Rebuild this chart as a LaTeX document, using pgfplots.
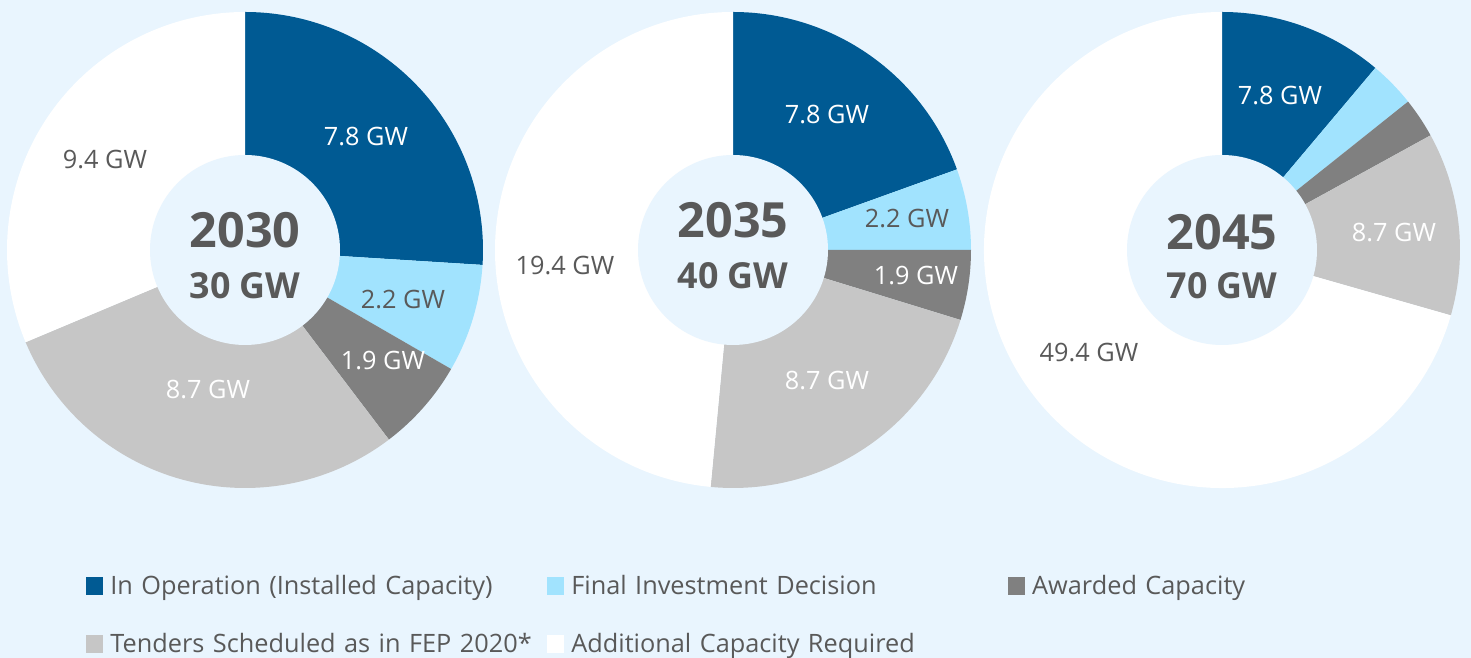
\documentclass[border=0pt]{standalone}
\usepackage{pgfplots}
\usepackage{pgfplotstable}
\pgfplotsset{compat=1.18}
\usepackage{fontspec}
\setmainfont{Open Sans}
\definecolor{bg}{RGB}{233,245,254}
\definecolor{c0}{RGB}{0,90,147}
\definecolor{c1}{RGB}{161,227,254}
\definecolor{c2}{RGB}{128,128,128}
\definecolor{c3}{RGB}{198,198,198}
\definecolor{c4}{RGB}{255,255,255}
\definecolor{txt}{RGB}{89,89,89}

\pgfplotstableread{
value
7.8
2.2
1.9
8.7
9.4
}\tabA
\pgfplotstableread{
value
7.8
2.2
1.9
8.7
19.4
}\tabB
\pgfplotstableread{
value
7.8
2.2
1.9
8.7
49.4
}\tabC

\newcommand\lab{\fontsize{7.2}{8.6}\selectfont}
\newcommand\yr{\fontsize{13.8}{16}\selectfont\bfseries}
\newcommand\gw{\fontsize{10.2}{12}\selectfont\bfseries}

\newcommand\donut[3]{%
  \gdef\tot{0}%
  \foreach \i in {0,...,4}{%
    \pgfplotstablegetelem{\i}{value}\of{#1}%
    \pgfmathparse{\tot+\pgfplotsretval}\xdef\tot{\pgfmathresult}%
  }%
  \gdef\cum{0}%
  \foreach \i in {0,...,4}{%
    \pgfplotstablegetelem{\i}{value}\of{#1}%
    \pgfmathsetmacro\aS{90-360*(\cum/\tot)}%
    \pgfmathparse{\cum+\pgfplotsretval}\xdef\cum{\pgfmathresult}%
    \pgfmathsetmacro\aE{90-360*(\cum/\tot)}%
    \edef\temp{\noexpand\fill[c\i] (axis cs:#2,#3) -- ++(\aS:2.38cm) arc[start angle=\aS, end angle=\aE, radius=2.38cm] -- cycle;}%
    \temp
  }%
  \edef\temp{\noexpand\fill[bg] (axis cs:#2,#3) circle[radius=0.95cm];}\temp
}

\begin{document}
\begin{tikzpicture}
\begin{axis}[
  x=1cm, y=1cm,
  xmin=0, xmax=14.71, ymin=0, ymax=6.58,
  hide axis, scale only axis, clip=false,
  legend columns=3,
  legend cell align=left,
  legend style={draw=none, fill=none, inner sep=0pt, outer sep=0pt,
    at={(axis cs:0.86,0.43)}, anchor=west,
    column sep=0pt, row sep=0.40cm,
    font=\lab, text=txt,
    nodes={inner sep=0pt, text width=4.25cm, text height=0.18cm, text depth=0cm},
    /tikz/every odd column/.append style={column sep=0.07cm},
    /tikz/every even column/.append style={column sep=0.115cm}},
]
\fill[bg] (axis cs:0,0) rectangle (axis cs:14.71,6.58);

\donut{\tabA}{2.45}{4.08}
\donut{\tabB}{7.33}{4.08}
\donut{\tabC}{12.22}{4.08}

% labels 2030
\node[font=\lab, text=white] at (axis cs:3.66,5.21) {7.8 GW};
\node[font=\lab, text=txt] at (axis cs:4.03,3.58) {2.2 GW};
\node[font=\lab, text=white] at (axis cs:3.83,2.97) {1.9 GW};
\node[font=\lab, text=white] at (axis cs:2.08,2.68) {8.7 GW};
\node[font=\lab, text=txt] at (axis cs:1.05,4.98) {9.4 GW};
\node[font=\yr, text=txt] at (axis cs:2.45,4.275) {2030};
\node[font=\gw, text=txt] at (axis cs:2.45,3.72) {30 GW};
% labels 2035
\node[font=\lab, text=white] at (axis cs:8.27,5.43) {7.8 GW};
\node[font=\lab, text=txt] at (axis cs:9.07,4.39) {2.2 GW};
\node[font=\lab, text=white] at (axis cs:9.16,3.82) {1.9 GW};
\node[font=\lab, text=white] at (axis cs:8.27,2.77) {8.7 GW};
\node[font=\lab, text=txt] at (axis cs:5.65,3.92) {19.4 GW};
\node[font=\yr, text=txt] at (axis cs:7.33,4.375) {2035};
\node[font=\gw, text=txt] at (axis cs:7.33,3.82) {40 GW};
% labels 2045
\node[font=\lab, text=white] at (axis cs:12.80,5.62) {7.8 GW};
\node[font=\lab, text=white] at (axis cs:13.94,4.25) {8.7 GW};
\node[font=\lab, text=txt] at (axis cs:10.89,3.05) {49.4 GW};
\node[font=\yr, text=txt] at (axis cs:12.22,4.26) {2045};
\node[font=\gw, text=txt] at (axis cs:12.22,3.72) {70 GW};

\addlegendimage{legend image code/.code={\fill[c0] (0cm,-0.08cm) rectangle (0.16cm,0.08cm);}}
\addlegendentry{In Operation (Installed Capacity)}
\addlegendimage{legend image code/.code={\fill[c1] (0cm,-0.08cm) rectangle (0.16cm,0.08cm);}}
\addlegendentry{Final Investment Decision}
\addlegendimage{legend image code/.code={\fill[c2] (0cm,-0.08cm) rectangle (0.16cm,0.08cm);}}
\addlegendentry{Awarded Capacity}
\addlegendimage{legend image code/.code={\fill[c3] (0cm,-0.08cm) rectangle (0.16cm,0.08cm);}}
\addlegendentry{Tenders Scheduled as in FEP 2020*}
\addlegendimage{legend image code/.code={\fill[c4] (0cm,-0.08cm) rectangle (0.16cm,0.08cm);}}
\addlegendentry{Additional Capacity Required}
\end{axis}
\pgfresetboundingbox
\path[use as bounding box] (current axis.south west) rectangle (current axis.north east);
\end{tikzpicture}
\end{document}
